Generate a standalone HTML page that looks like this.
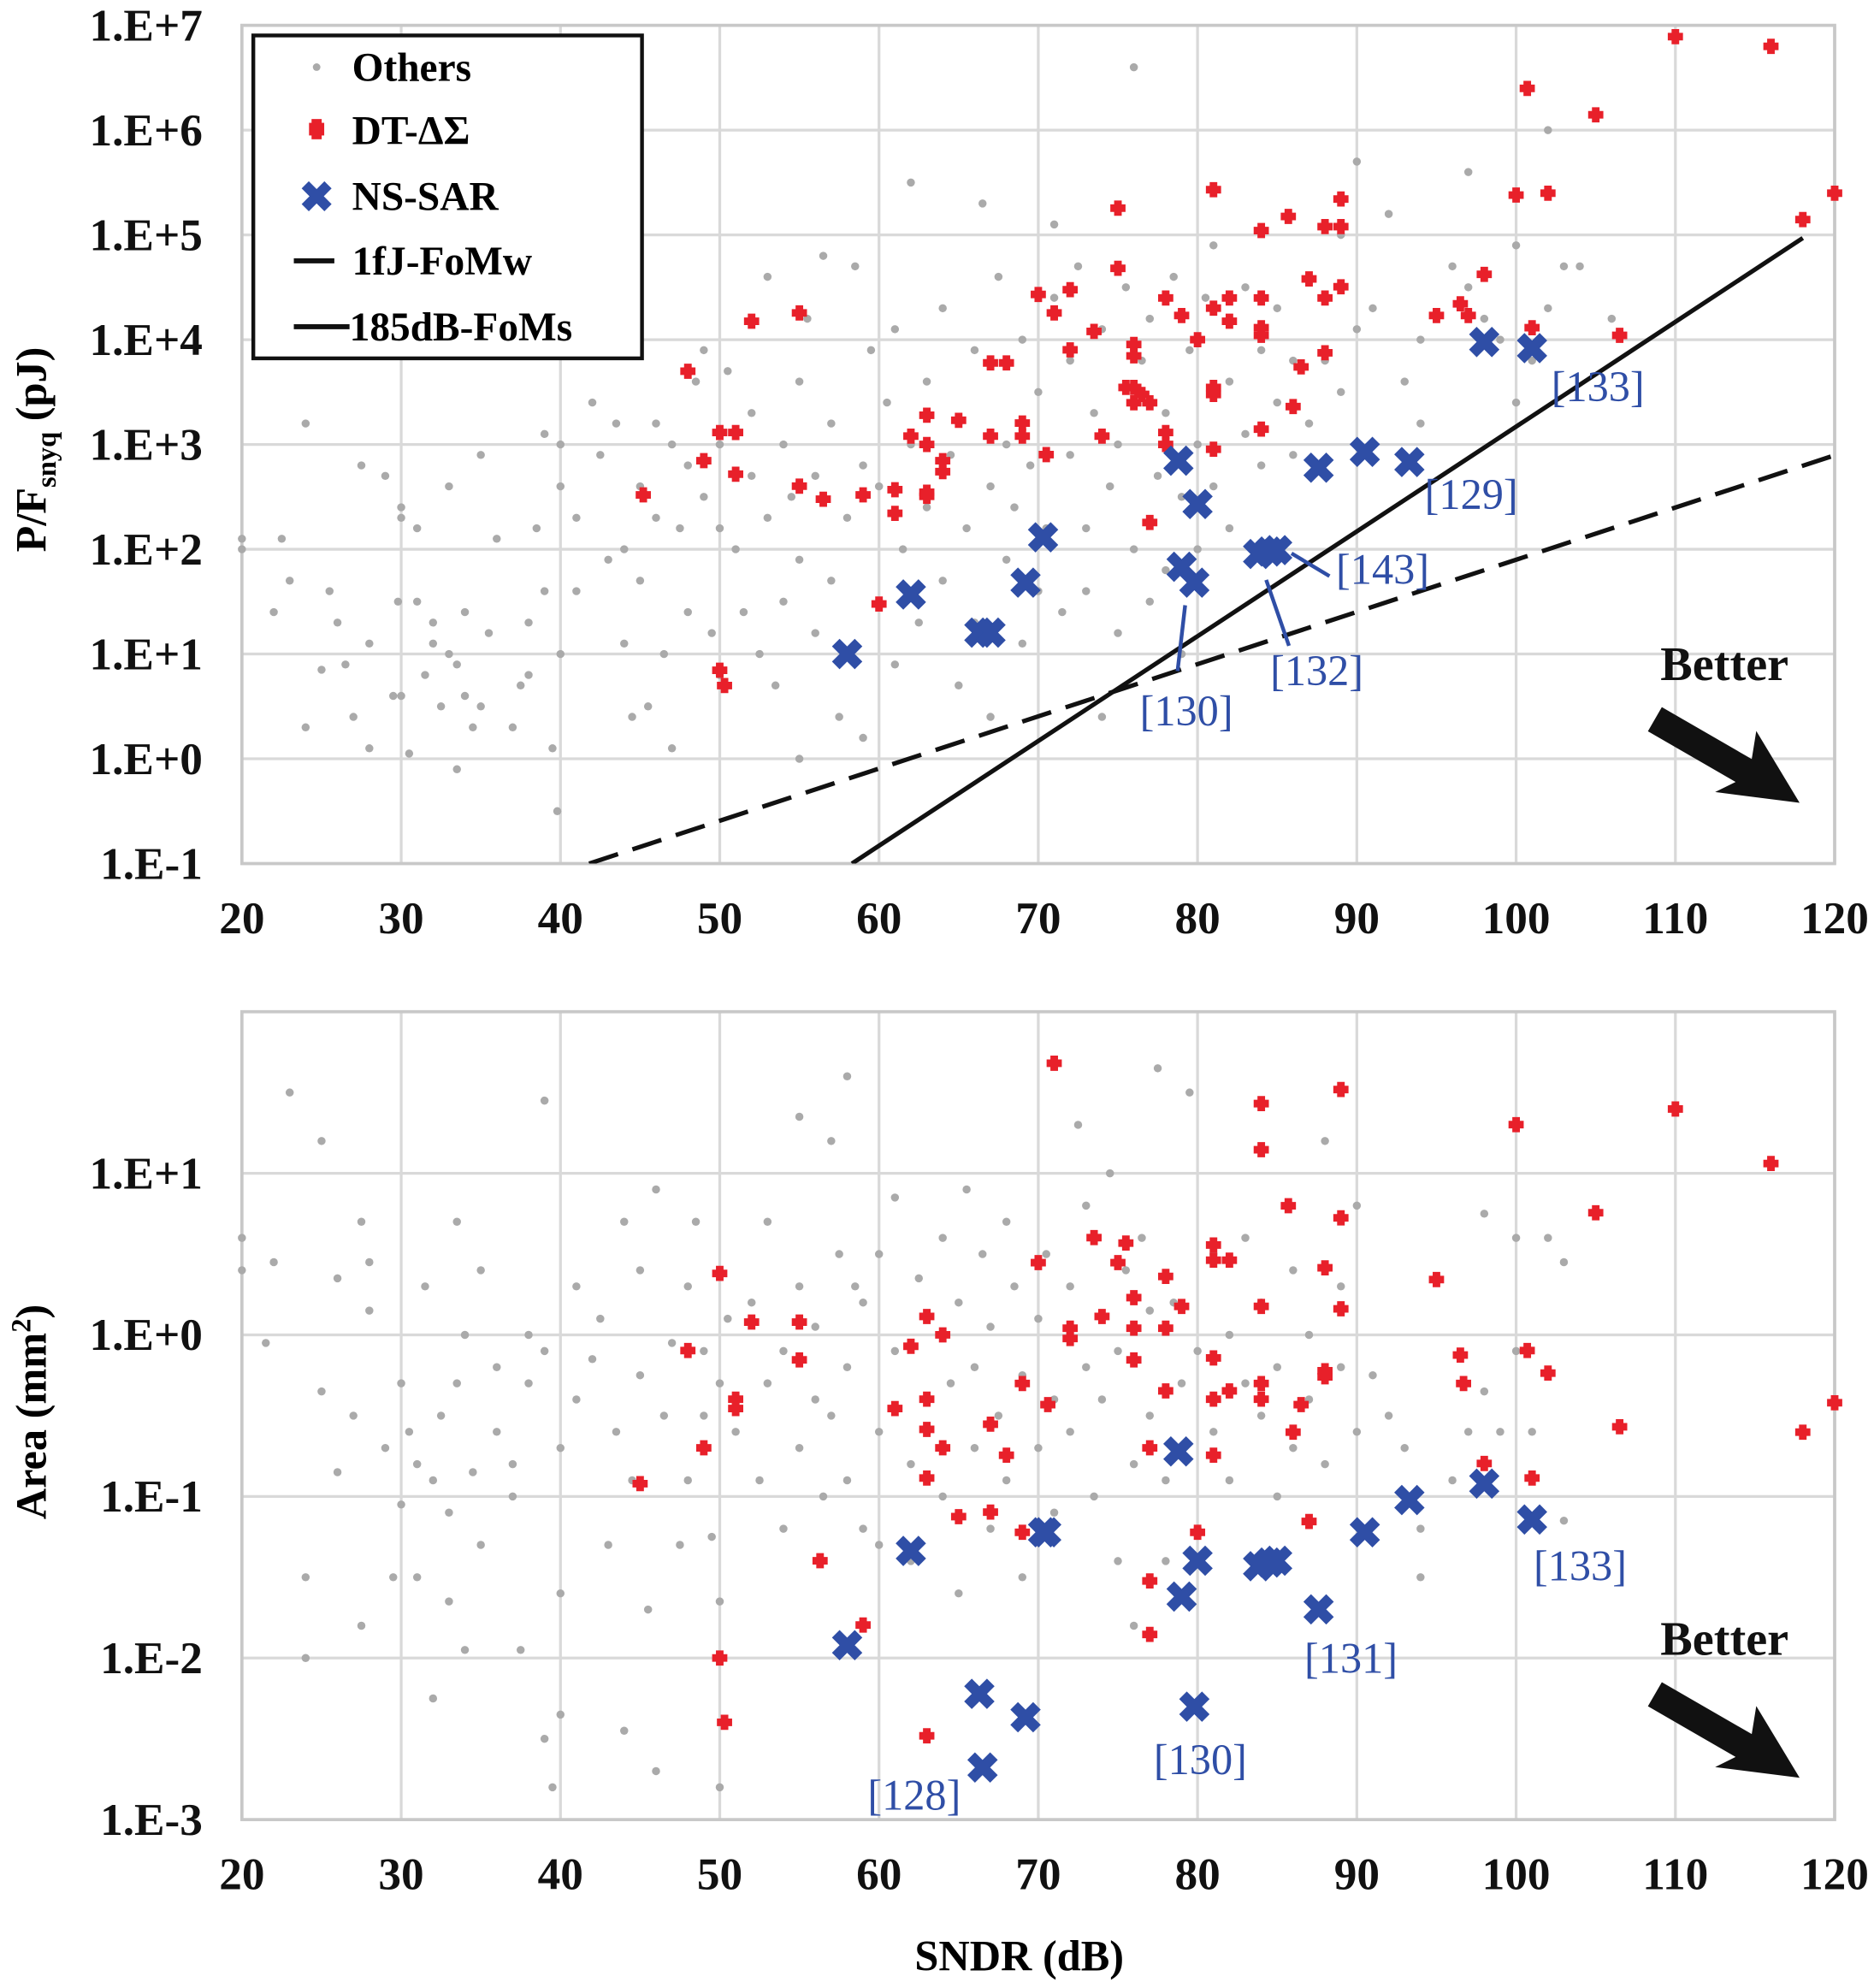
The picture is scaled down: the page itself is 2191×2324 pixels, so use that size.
<!DOCTYPE html>
<html><head><meta charset="utf-8"><style>
html,body{margin:0;padding:0;background:#fff}
svg{display:block}
svg text{font-family:"Liberation Serif","Times New Roman",serif}
</style></head><body>
<svg id="chart" width="2191" height="2324" viewBox="0 0 1480 1570" font-family="Liberation Serif, serif" xmlns="http://www.w3.org/2000/svg">
<defs>
<clipPath id="clipTop"><rect x="191" y="20" width="1258" height="662"/></clipPath>
</defs>
<g id="top"></g>
<g id="bot"></g>
<g>
<rect x="200" y="28" width="307" height="255" fill="#fff" stroke="#111" stroke-width="3"/>
<circle cx="250" cy="53" r="3" fill="#aaa"/>
<text x="278" y="64" font-size="32" font-weight="bold" font-family="Liberation Serif, serif">Others</text>
<rect x="244" y="97" width="12" height="10" fill="#e8202a"/><rect x="246" y="94" width="8" height="16" fill="#e8202a"/>
<text x="278" y="114" font-size="32" font-weight="bold" font-family="Liberation Serif, serif">DT-ΔΣ</text>
<path d="M241 146 L259 164 M259 146 L241 164" stroke="#2f4ea6" stroke-width="8"/>
<text x="278" y="166" font-size="32" font-weight="bold" font-family="Liberation Serif, serif">NS-SAR</text>
<line x1="232" y1="206" x2="264" y2="206" stroke="#111" stroke-width="4"/>
<text x="278" y="217" font-size="32" font-weight="bold" font-family="Liberation Serif, serif">1fJ-FoMw</text>
<line x1="232" y1="258" x2="276" y2="258" stroke="#111" stroke-width="4"/>
<text x="276" y="269" font-size="32" font-weight="bold" font-family="Liberation Serif, serif">185dB-FoMs</text>
</g>
<text x="805" y="1556" font-size="34" font-weight="bold" text-anchor="middle" font-family="Liberation Serif, serif">SNDR (dB)</text>
<text transform="translate(36,355) rotate(-90)" font-size="34" font-weight="bold" text-anchor="middle" font-family="Liberation Serif, serif">P/F<tspan font-size="22" dy="8">snyq</tspan><tspan dy="-8"> (pJ)</tspan></text>
<text transform="translate(36,1115) rotate(-90)" font-size="34" font-weight="bold" text-anchor="middle" font-family="Liberation Serif, serif">Area (mm<tspan font-size="22" dy="-12">2</tspan><tspan dy="12">)</tspan></text>
</svg>
<script>
const xTicks = [20,30,40,50,60,70,80,90,100,110,120];
const topTickLabels = ["1.E-1","1.E+0","1.E+1","1.E+2","1.E+3","1.E+4","1.E+5","1.E+6","1.E+7"];
const topTickExps = [-1,0,1,2,3,4,5,6,7];
const botTickLabels = ["1.E-3","1.E-2","1.E-1","1.E+0","1.E+1",""];
const botTickExps = [-3,-2,-1,0,1,2];

const dsTopX = [45.2,48,49,50,50,50.3,51,51,52,55,55,56.5,59,60,61,61,62,63,63,63,63,64,64,65,67,67,68,69,69,70,70.5,71,72,72,73.5,74,75,75,75.5,76,76,76,76,76.5,77,77,78,78,78,79,80,81,81,81,81,81,82,82,84,84,84,84,84,85.7,86,86.5,87,88,88,88,89,89,89,95,96.5,97,98,100,100.7,101,102,105,106.5,110,116,118,120];
const dsTopY = [330,5000,700,1300,7,5,1300,520,15000,18000,400,300,330,30,220,370,1200,1900,1000,320,350,700,550,1700,6000,1200,6000,1600,1200,27000,800,18000,30000,8000,12000,1200,180000,48000,3500,9000,7000,3500,2500,3000,2500,180,25000,1300,1000,17000,10000,270000,20000,3500,3000,900,25000,15000,110000,25000,13000,11000,1400,150000,2300,5500,38000,120000,25000,7500,220000,120000,32000,17000,22000,17000,42000,240000,2500000,13000,250000,1400000,11000,7800000,6300000,140000,250000];
const nsTopX = [58,62,66.3,67,69.2,70.3,78.8,79,79.8,80,83.8,84.5,85,87.6,90.5,93.3,98,101];
const nsTopY = [10,37,16,16,48,130,700,68,48,270,90,95,98,600,850,680,9500,8300];

const dsBotX = [45,48,49,50,50,50.3,51,51,52,55,55,56.3,59,61,62,63,63,63,63,63,64,64,65,67,67,68,69,69,70,70.6,71,72,72,73.5,74,75,75.5,76,76,76,77,77,77,78,78,78,79,80,81,81,81,81,81,82,82,84,84,84,84,84,85.7,86,86.5,87,88,88,88,89,89,89,95,96.5,96.7,98,100,100.7,101,102,105,106.5,110,116,118,120];
const dsBotY = [0.12,0.8,0.2,2.4,0.01,0.004,0.4,0.35,1.2,1.2,0.7,0.04,0.016,0.35,0.85,1.3,0.4,0.26,0.13,0.0033,1.0,0.2,0.075,0.28,0.08,0.18,0.5,0.06,2.8,0.37,48,1.1,0.95,4,1.3,2.8,3.7,1.7,1.1,0.7,0.2,0.03,0.014,2.3,1.1,0.45,1.5,0.06,3.6,2.9,0.72,0.4,0.18,2.9,0.45,27,14,1.5,0.5,0.4,6.3,0.25,0.37,0.07,2.6,0.6,0.55,33,5.3,1.45,2.2,0.75,0.5,0.16,20,0.8,0.13,0.58,5.7,0.27,25,11.5,0.25,0.38];
const nsBotX = [58,62,66.3,66.5,69.2,70.3,70.5,78.8,79,79.8,80,83.8,84.5,85,87.6,90.5,93.3,98,101];
const nsBotY = [0.012,0.046,0.006,0.0021,0.0043,0.06,0.06,0.19,0.024,0.005,0.04,0.037,0.039,0.04,0.02,0.06,0.095,0.12,0.072];

const othersTopX = [20,20,22,22.5,23,24,24,25,25.5,26,26.5,27,27.5,28,28,29,29.5,29.8,30,30,30,30.5,31,31,31.5,32,32,32.5,33,33,33.5,33.5,34,34,34.5,35,35,35.5,36,37,37.5,38,38,38.5,39,39,39.5,39.8,40,40,40,41,41,42,42.5,43,43.5,44,44,44.5,45,45,45.5,46,46,46.5,47,47,47.5,48,48,48.5,49,49,49.5,50,50,50,50.5,51,51.5,52,52,52.5,53,53,53.5,54,54,54.5,55,55,55,55.5,56,56,56.5,57,57,57.5,58,58,58.5,59,59,59.5,60,60,60.5,61,61,61.5,62,62,62.5,63,63,64,64,64.5,65,65,65.5,66,66,66.5,67,67,67.5,68,68,68.5,69,69,69.5,70,70,70.5,71,71,71.5,72,72,72.5,73,73,73.5,74,74,74.5,75,75,75.5,76,76,76.5,77,77,77.5,78,78,78.5,79,79,79.5,80,80,80.5,81,81,82,82,83,83,84,84,85,85,86,86,87,87,88,88,89,89,90,90,91,92,93,94,94,96,97,97,98,99,100,100,101,102,102,103,104,106];
const othersTopLog = [2.1,2.0,1.4,2.1,1.7,0.3,3.2,0.85,1.6,1.3,0.9,0.4,2.8,1.1,0.1,2.7,0.6,1.5,2.4,0.6,2.3,0.05,1.5,2.2,0.8,1.3,1.1,0.5,1.0,2.6,0.9,-0.1,1.4,0.6,0.3,2.9,0.5,1.2,2.1,0.3,0.7,1.3,0.8,2.2,1.6,3.1,0.1,-0.5,1.0,2.6,3.0,1.6,2.3,3.4,2.9,1.9,3.2,1.1,2.0,0.4,1.7,2.6,0.5,3.2,2.3,1.0,0.1,3.0,2.2,2.8,1.4,3.6,2.5,3.9,1.2,2.2,3.0,0.8,3.7,2.0,1.4,2.7,3.3,1.0,2.3,4.6,0.7,1.5,3.0,2.5,1.9,3.6,0.0,4.2,1.2,2.7,4.8,1.7,3.2,0.4,2.3,1.0,4.7,2.8,0.2,3.9,1.5,2.6,3.4,0.9,4.1,2.0,3.0,5.5,1.3,2.4,3.6,1.7,4.3,2.9,0.7,3.2,2.2,1.3,3.9,5.3,2.6,0.4,4.6,1.9,3.0,2.4,1.1,4.0,2.8,1.6,3.5,2.2,5.1,4.4,1.4,2.9,3.8,4.7,2.2,1.6,3.3,0.4,4.1,2.6,3.0,1.2,4.5,6.6,2.0,3.8,1.5,4.2,2.7,3.3,1.8,4.6,2.5,1.0,3.9,2.0,3.0,4.4,2.6,4.9,3.6,2.2,3.1,4.5,2.8,3.9,3.4,4.3,2.9,3.8,4.6,3.2,3.8,4.4,3.5,5.0,5.7,4.1,4.3,5.2,3.6,3.2,4.0,4.7,5.6,4.5,4.2,4.0,3.4,4.9,3.8,4.3,6.0,4.7,4.7,4.2];

const othersBotX = [20,20,21.5,22,23,24,24,25,25,26,26,27,27.5,27.5,28,28,29,29.5,30,30,30.5,31,31,31.5,32,32,32.5,33,33,33.5,33.5,34,34,34.5,35,35,36,36,37,37,37.5,38,38,39,39,39,39.5,40,40,40,41,41,42,42.5,43,43.5,44,44,44.5,45,45,45.5,46,46,46.5,47,47.5,48,48,48.5,49,49,49.5,50,50,50,50.5,51,52,52.5,53,53,54,54,55,55,55,56,56,56.5,57,57,57.5,58,58,58,58.5,59,59,60,60,60,61,61,62,62,62.5,63,63,64,64,64.5,65,65,65.5,66,66,66.5,67,67,67.5,68,68,68.5,69,69,70,70,70.5,71,71,72,72,72.5,73,73,73.5,74,74,74.5,75,75,75.5,76,76,76.5,77,77,77.5,78,78,78.5,79,79,79.5,80,80,81,81,82,82,83,83,84,84,85,85,86,86,87,87,88,88,89,89,90,90,91,92,93,94,94,96,97,98,98,99,100,100,101,102,103,103];
const othersBotLog = [0.6,0.4,-0.05,0.45,1.5,-1.5,-2.0,-0.35,1.2,-0.85,0.35,-0.5,0.7,-1.8,0.15,0.45,-0.7,-1.5,-0.3,-1.05,-0.6,-0.8,-1.5,0.3,-0.9,-2.25,-0.5,-1.1,-1.65,0.7,-0.3,0.0,-1.95,-0.85,0.4,-1.3,-0.2,-0.6,-1.0,-0.8,-1.95,0.0,-0.3,-2.5,-0.1,1.45,-2.8,-0.7,-2.35,-1.6,0.3,-0.4,-0.15,0.1,-1.3,-0.6,0.7,-2.45,-0.9,0.4,-0.25,-1.7,0.9,-2.7,-0.5,-0.05,-1.3,0.3,-0.9,0.7,-0.5,-0.1,-1.25,-0.3,-1.65,-2.8,0.1,-0.6,0.2,-0.9,-0.3,0.7,-1.2,-0.1,0.3,-0.7,1.35,-0.4,0.05,-1.0,1.2,-0.5,0.5,-0.9,-0.2,1.6,0.3,-1.2,0.2,-0.6,-1.3,0.5,-0.1,0.85,-0.8,-1.4,0.35,-0.4,0.1,-1.0,0.6,-0.3,-1.6,0.2,0.9,-0.7,-0.2,0.5,-1.2,0.05,-0.5,0.7,-0.9,0.3,-0.25,-1.5,0.1,-0.7,0.5,-0.4,-1.1,0.3,-0.6,1.3,-0.2,0.8,-1.0,0.1,-0.4,1.0,-1.4,-0.1,0.4,-0.8,-1.8,0.6,-0.5,0.15,1.65,-0.9,-1.4,0.2,-0.3,-0.7,1.5,-0.1,-1.2,0.5,-0.6,0.0,-0.9,-0.3,0.6,-0.5,0.2,-0.2,-1.0,0.4,-0.7,0.0,-0.4,1.2,-0.8,0.3,-0.2,0.8,-0.6,-0.25,-0.5,-0.7,-1.2,-1.5,-0.9,-0.6,0.75,-0.35,-0.6,0.6,-0.1,-0.6,0.6,-1.15,0.45];

const NS='http://www.w3.org/2000/svg';
const SERIF='Liberation Serif, serif';
function mk(tag, attrs, parent){const e=document.createElementNS(NS,tag);for(const k in attrs)e.setAttribute(k,attrs[k]);parent.appendChild(e);return e;}
const xL=191,xR=1449;
function sx(v){return xL+(v-20)/100*(xR-xL);}

function drawPlot(g, yTop, yBot, eMin, eMax, tickExps, tickLabels, othX, othLog, dsX, dsY, nsX, nsY){
  const sy = e => yBot-(e-eMin)/(eMax-eMin)*(yBot-yTop);
  xTicks.forEach(t=>{const l=mk('line',{x1:sx(t),x2:sx(t),y1:yTop,y2:yBot,stroke:'#d9d9d9','stroke-width':2.2},g);
    
    
    const tx=mk('text',{x:sx(t),y:yBot+55,'font-size':36,'font-weight':'bold','text-anchor':'middle',fill:'#111','font-family':SERIF},g);tx.textContent=t;
    
    
  });
  tickExps.forEach((e,i)=>{const l=mk('line',{x1:xL,x2:xR,y1:sy(e),y2:sy(e),stroke:'#d9d9d9','stroke-width':2.2},g);
    
    
    if(tickLabels[i]){const tx=mk('text',{x:160,y:sy(e)+12,'font-size':36,'font-weight':'bold','text-anchor':'end',fill:'#111','font-family':SERIF},g);tx.textContent=tickLabels[i];
    
    }
  });
  const fr=mk('rect',{x:xL,y:yTop,width:xR-xL,height:yBot-yTop,fill:'none',stroke:'#c8c8c8','stroke-width':2.5},g);
  
  
  othX.forEach((x,i)=>{const c=mk('circle',{cx:sx(x),cy:sy(othLog[i]),r:3.2,fill:'#aaa'},g);
    
    });
  dsX.forEach((x,i)=>{const cx=sx(x),cy=sy(Math.log10(dsY[i]));
    const p=mk('path',{d:`M${cx-6} ${cy-3}h3v-3h6v3h3v6h-3v3h-6v-3h-3z`,fill:'#e8202a'},g);
    
    });
  nsX.forEach((x,i)=>{const cx=sx(x),cy=sy(Math.log10(nsY[i]));
    const p=mk('path',{d:`M${cx-9} ${cy-9}L${cx+9} ${cy+9}M${cx+9} ${cy-9}L${cx-9} ${cy+9}`,stroke:'#2f4ea6','stroke-width':8.5},g);
    
    });
  return sy;
}
const gT=document.getElementById('top'), gB=document.getElementById('bot');
const syT=drawPlot(gT,20,682,-1,7,topTickExps,topTickLabels,othersTopX,othersTopLog,dsTopX,dsTopY,nsTopX,nsTopY);
drawPlot(gB,799,1437,-3,2,botTickExps,botTickLabels,othersBotX,othersBotLog,dsBotX,dsBotY,nsBotX,nsBotY);

const fomsRef=[58.3,-1], fomwRef=[41.8,-1];
const lg=mk('g',{'clip-path':'url(#clipTop)'},gT);
const l1=mk('line',{x1:sx(fomsRef[0]),y1:syT(fomsRef[1]),x2:sx(118),y2:syT(fomsRef[1]+(118-fomsRef[0])/10),stroke:'#111','stroke-width':3.5},lg);


const l2=mk('line',{x1:sx(fomwRef[0]),y1:syT(fomwRef[1]),x2:sx(120),y2:syT(fomwRef[1]+(120-fomwRef[0])/20.07),stroke:'#111','stroke-width':3.5,'stroke-dasharray':'24 12'},lg);



function ann(txt,x,y,g){const t=mk('text',{x:x,y:y,'font-size':34,fill:'#2f4ea6','text-anchor':'middle','font-family':SERIF},g);t.textContent=txt;
  
  }
ann('[133]',1262,317,gT);ann('[129]',1162,402,gT);ann('[143]',1092,461,gT);ann('[132]',1040,541,gT);ann('[130]',937,573,gT);
mk('path',{d:'M1050 455 L1020 437 M1018 510 L1000 458 M930 530 L936 478',stroke:'#2f4ea6','stroke-width':3,fill:'none'},gT);
ann('[133]',1248,1248,gB);ann('[131]',1067,1321,gB);ann('[130]',948,1401,gB);ann('[128]',722,1429,gB);

function better(g,ty,ay){const t=mk('text',{x:1362,y:ty,'font-size':38,'font-weight':'bold','text-anchor':'middle',fill:'#111','font-family':SERIF},g);t.textContent='Better';
  
  
  const a=mk('path',{d:'M0 -11 L82 -11 L74 -32 L132 0 L70 26 L80 11 L0 11 Z',fill:'#111',transform:`translate(1307 ${ay}) rotate(30)`},g);
  
  }
better(gT,537,568);better(gB,1307,1338);
</script>
</body></html>
